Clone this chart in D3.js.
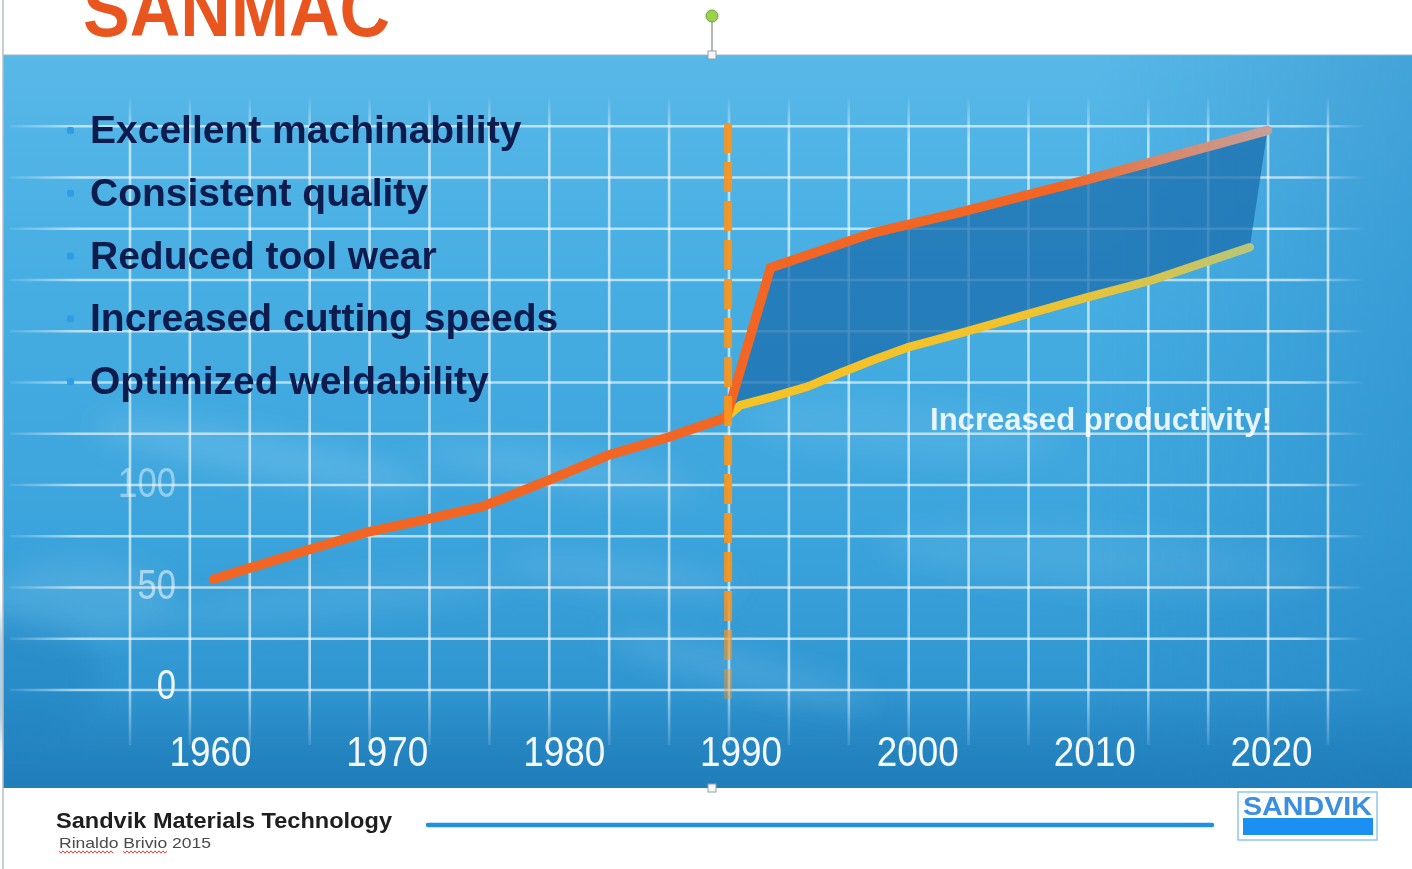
<!DOCTYPE html>
<html>
<head>
<meta charset="utf-8">
<script src="https://cdn.jsdelivr.net/npm/d3@7"></script>
<style>
  html, body { margin: 0; padding: 0; background: #fff; overflow: hidden; }
  svg { display: block; }
</style>
</head>
<body>
<svg id="chart" width="1412" height="869"></svg>
<script>
// ---------------- DATA ----------------
const yearTicks = [1960, 1970, 1980, 1990, 2000, 2010, 2020];
const valueTicks = [0, 50, 100];
const gridValues = [0, 25, 50, 75, 100, 125, 150, 175, 200, 225, 250, 275];
const gridColumns = [0, 1, 2, 3, 4, 5, 6, 7, 8, 9, 10, 11, 12, 13, 14, 15, 16, 17, 18, 19, 20];

const bulletLabels = [
  "Excellent machinability",
  "Consistent quality",
  "Reduced tool wear",
  "Increased cutting speeds",
  "Optimized weldability"
];

// Orange line (SANMAC)
const sanmacYears  = [1960.2, 1961.3, 1965.8, 1968.9, 1972.6, 1975.4, 1979.2, 1982.5, 1986.0, 1989.2, 1991.7, 1997.5, 2002.4, 2009.6, 2019.8];
const sanmacValues = [54,     57,     69,     77,     84,     89.5,   102.5,  114.5,  123.5,  133,    206,    223,    233,    249,    273];

// Yellow line (standard)
const standardYears  = [1989.2, 1990.0, 1991.8, 1993.8, 1995.6, 1997.5, 1999.4, 2002.4, 2009.6, 2013.3, 2018.8];
const standardValues = [133,    139,    143,    148,    154.5,  161,    167,    174,    191.5,  200,    216];

const milestoneYear = 1989.3;
const annotation = "Increased productivity!";
const footerTitle = "Sandvik Materials Technology";
const footerAuthor = ["Rinaldo", "Brivio", "2015"];

// ---------------- SETUP ----------------
const svg = d3.select("#chart");
const W = 1412, H = 869;
const panel = { x: 3, y: 55, w: 1409, h: 733 };

const x = d3.scaleLinear().domain([1960, 2020]).range([210, 1271]);
const y = d3.scaleLinear().domain([0, 100]).range([690, 485]);
const gx = d3.scaleLinear().domain([0, 20]).range([130, 1328]);

const defs = svg.append("defs");

const bg = defs.append("linearGradient").attr("id", "bgGrad").attr("x1", 0).attr("y1", 0).attr("x2", 0).attr("y2", 1);
[["0%", "#58b8e8"], ["30%", "#47aee3"], ["65%", "#3ca4dc"], ["86%", "#3096d1"], ["100%", "#2383bf"]]
  .forEach(([o, c]) => bg.append("stop").attr("offset", o).attr("stop-color", c));

const rightShade = defs.append("linearGradient").attr("id", "rightShade").attr("x1", 0).attr("y1", 0).attr("x2", 1).attr("y2", 0);
rightShade.append("stop").attr("offset", "0%").attr("stop-color", "#1f7fbf").attr("stop-opacity", 0);
rightShade.append("stop").attr("offset", "100%").attr("stop-color", "#1f7fbf").attr("stop-opacity", 0.35);

const bottomBand = defs.append("linearGradient").attr("id", "bottomBand").attr("x1", 0).attr("y1", 0).attr("x2", 0).attr("y2", 1);
bottomBand.append("stop").attr("offset", "0%").attr("stop-color", "#1d78b6").attr("stop-opacity", 0);
bottomBand.append("stop").attr("offset", "100%").attr("stop-color", "#1d78b6").attr("stop-opacity", 0.5);

defs.append("filter").attr("id", "blur").attr("x", "-50%").attr("y", "-50%").attr("width", "200%").attr("height", "200%")
  .append("feGaussianBlur").attr("stdDeviation", 14);

const vFade = defs.append("linearGradient").attr("id", "vFade").attr("gradientUnits", "userSpaceOnUse")
  .attr("x1", 0).attr("y1", 95).attr("x2", 0).attr("y2", 745);
[["0", 0], ["0.07", 0.62], ["0.9", 0.62], ["1", 0.12]]
  .forEach(([o, a]) => vFade.append("stop").attr("offset", o).attr("stop-color", "#ffffff").attr("stop-opacity", a));

const hFade = defs.append("linearGradient").attr("id", "hFade").attr("gradientUnits", "userSpaceOnUse")
  .attr("x1", 10).attr("y1", 0).attr("x2", 1365).attr("y2", 0);
[["0", 0.08], ["0.05", 0.62], ["0.95", 0.62], ["1", 0]]
  .forEach(([o, a]) => hFade.append("stop").attr("offset", o).attr("stop-color", "#ffffff").attr("stop-opacity", a));

const oFade = defs.append("linearGradient").attr("id", "oFade").attr("gradientUnits", "userSpaceOnUse")
  .attr("x1", 210).attr("y1", 0).attr("x2", 1271).attr("y2", 0);
[["0", "#f26522"], ["0.8", "#f26522"], ["0.9", "#d9876a"], ["1", "#c79f9a"]]
  .forEach(([o, c]) => oFade.append("stop").attr("offset", o).attr("stop-color", c));

const yFade = defs.append("linearGradient").attr("id", "yFade").attr("gradientUnits", "userSpaceOnUse")
  .attr("x1", 728).attr("y1", 0).attr("x2", 1255).attr("y2", 0);
[["0", "#f5c324"], ["0.55", "#f3c22c"], ["0.8", "#d8c44c"], ["1", "#b6c67c"]]
  .forEach(([o, c]) => yFade.append("stop").attr("offset", o).attr("stop-color", c));

const dFade = defs.append("linearGradient").attr("id", "dFade").attr("gradientUnits", "userSpaceOnUse")
  .attr("x1", 0).attr("y1", 120).attr("x2", 0).attr("y2", 705);
[["0", 0.95], ["0.8", 0.95], ["1", 0.35]]
  .forEach(([o, a]) => dFade.append("stop").attr("offset", o).attr("stop-color", "#f7941d").attr("stop-opacity", a));

// ---------------- BACKGROUND ----------------
svg.append("rect").attr("width", W).attr("height", H).attr("fill", "#ffffff");

const pg = svg.append("g");
pg.append("rect").attr("x", panel.x).attr("y", panel.y).attr("width", panel.w).attr("height", panel.h).attr("fill", "url(#bgGrad)");

const streaks = pg.append("g").attr("filter", "url(#blur)");
[
  { cx: 260, cy: 455, rx: 170, ry: 20, r: 10, o: 0.2 },
  { cx: 560, cy: 470, rx: 140, ry: 18, r: 8, o: 0.16 },
  { cx: 620, cy: 575, rx: 120, ry: 16, r: 6, o: 0.16 },
  { cx: 740, cy: 670, rx: 140, ry: 16, r: 14, o: 0.16 },
  { cx: 80,  cy: 600, rx: 90,  ry: 40, r: 0, o: 0.14 },
  { cx: 1100, cy: 560, rx: 220, ry: 30, r: 4, o: 0.1 },
  { cx: 330, cy: 600, rx: 180, ry: 20, r: -6, o: 0.1 },
  { cx: 900, cy: 430, rx: 160, ry: 30, r: 5, o: 0.1 }
].forEach(s => {
  streaks.append("ellipse").attr("cx", s.cx).attr("cy", s.cy).attr("rx", s.rx).attr("ry", s.ry)
    .attr("transform", `rotate(${s.r},${s.cx},${s.cy})`).attr("fill", "#bfe8ff").attr("opacity", s.o);
});
pg.append("ellipse").attr("cx", 20).attr("cy", 680).attr("rx", 80).attr("ry", 60)
  .attr("fill", "#1f7cb9").attr("opacity", 0.35).attr("filter", "url(#blur)");

pg.append("rect").attr("x", 1100).attr("y", panel.y).attr("width", 312).attr("height", panel.h).attr("fill", "url(#rightShade)");
pg.append("rect").attr("x", panel.x).attr("y", 700).attr("width", panel.w).attr("height", 88).attr("fill", "url(#bottomBand)");

// ---------------- GRID ----------------
const grid = svg.append("g");
grid.selectAll("line.h").data(gridValues).join("line").attr("class", "h")
  .attr("x1", 10).attr("x2", 1365)
  .attr("y1", d => y(d)).attr("y2", d => y(d))
  .attr("stroke", "url(#hFade)").attr("stroke-width", 2.6);
grid.selectAll("line.v").data(gridColumns).join("line").attr("class", "v")
  .attr("x1", d => gx(d)).attr("x2", d => gx(d))
  .attr("y1", 95).attr("y2", 745)
  .attr("stroke", "url(#vFade)").attr("stroke-width", 2.6);

// ---------------- AREA BETWEEN LINES ----------------
const sanmac = sanmacYears.map((yr, i) => [yr, sanmacValues[i]]);
const standard = standardYears.map((yr, i) => [yr, standardValues[i]]);
const line = d3.line().x(d => x(d[0])).y(d => y(d[1]));

const upper = sanmac.filter(d => d[0] >= standardYears[0]);
const polygon = upper.concat(standard.slice().reverse());
svg.append("path").attr("d", line(polygon) + "Z")
  .attr("fill", "#1a6dad").attr("opacity", 0.74);

// ---------------- LINES ----------------
svg.append("path").attr("d", line(standard))
  .attr("fill", "none").attr("stroke", "url(#yFade)").attr("stroke-width", 8.5)
  .attr("stroke-linecap", "round").attr("stroke-linejoin", "round");

svg.append("path").attr("d", line(sanmac))
  .attr("fill", "none").attr("stroke", "url(#oFade)").attr("stroke-width", 9.5)
  .attr("stroke-linecap", "round").attr("stroke-linejoin", "miter");

svg.append("line")
  .attr("x1", x(milestoneYear)).attr("x2", x(milestoneYear))
  .attr("y1", 123).attr("y2", 705)
  .attr("stroke", "url(#dFade)").attr("stroke-width", 8)
  .attr("stroke-dasharray", "30,9");

// ---------------- AXES ----------------
const axisFont = "'Liberation Sans Narrow', 'Arial Narrow', 'Liberation Sans', Arial, sans-serif";
const xAxis = d3.axisBottom(x).tickValues(yearTicks).tickFormat(d3.format("d")).tickSize(0).tickPadding(0);
const gxAxis = svg.append("g").attr("transform", "translate(0,736)").call(xAxis);
gxAxis.select(".domain").remove();
gxAxis.attr("font-family", axisFont).attr("font-size", 42);
gxAxis.selectAll("text").attr("fill", "#ffffff").attr("fill-opacity", 0.95)
  .attr("textLength", 82).attr("lengthAdjust", "spacingAndGlyphs");

const yAxis = d3.axisLeft(y).tickValues(valueTicks).tickFormat(d3.format("d")).tickSize(0).tickPadding(0);
const gyAxis = svg.append("g").attr("transform", "translate(176,0)").call(yAxis);
gyAxis.select(".domain").remove();
gyAxis.attr("font-family", axisFont).attr("font-size", 42);
gyAxis.selectAll("text").attr("fill", "#ffffff")
  .attr("fill-opacity", d => d === 0 ? 0.92 : (d === 50 ? 0.55 : 0.45))
  .attr("y", d => d === 0 ? -5 : -2)
  .attr("textLength", d => String(d).length * 19.3).attr("lengthAdjust", "spacingAndGlyphs");

// ---------------- BULLETS ----------------
const bulletG = svg.append("g");
const bulletY = d3.scaleLinear().domain([0, 4]).range([143, 394]);
const items = bulletG.selectAll("g").data(bulletLabels).join("g")
  .attr("transform", (d, i) => `translate(0,${bulletY(i)})`);
items.append("rect").attr("x", 67).attr("y", -16).attr("width", 7).attr("height", 7).attr("rx", 2)
  .attr("fill", "#2f9ce8");
items.append("text").attr("x", 90).attr("y", 0)
  .attr("font-family", "'Liberation Sans', Arial, sans-serif").attr("font-weight", "bold").attr("font-size", 39)
  .attr("fill", "#0d1b4d").text(d => d);

svg.append("text").attr("x", 930).attr("y", 430)
  .attr("font-family", "'Liberation Sans', Arial, sans-serif").attr("font-weight", "bold").attr("font-size", 31)
  .attr("fill", "#ffffff").attr("fill-opacity", 0.88).attr("textLength", 342).attr("lengthAdjust", "spacingAndGlyphs")
  .text(annotation);

// ---------------- SLIDE CHROME ----------------
// top logo, cropped by the top edge as in the slide
svg.append("text").attr("x", 83).attr("y", 36)
  .attr("font-family", "'Liberation Sans', Arial, sans-serif").attr("font-weight", "bold").attr("font-size", 78)
  .attr("fill", "#e8551f").attr("textLength", 307).attr("lengthAdjust", "spacingAndGlyphs")
  .text("SANMAC");

svg.append("line").attr("x1", 3).attr("x2", 3).attr("y1", 0).attr("y2", H).attr("stroke", "#b8bcc2").attr("stroke-width", 1.5);
svg.append("line").attr("x1", 3).attr("x2", W).attr("y1", panel.y).attr("y2", panel.y).attr("stroke", "#9fb3c4").attr("stroke-width", 1);

svg.append("line").attr("x1", 712).attr("x2", 712).attr("y1", 22).attr("y2", 51).attr("stroke", "#9aa0a6").attr("stroke-width", 1.5);
svg.append("circle").attr("cx", 712).attr("cy", 16).attr("r", 6).attr("fill", "#9ad24c").attr("stroke", "#6c9f35").attr("stroke-width", 1);
svg.append("rect").attr("x", 708).attr("y", 51).attr("width", 8).attr("height", 8).attr("fill", "#f4f6f8").attr("stroke", "#9aa0a6");
svg.append("rect").attr("x", 708).attr("y", 784).attr("width", 8).attr("height", 8).attr("fill", "#f4f6f8").attr("stroke", "#9aa0a6");

svg.append("text").attr("x", 56).attr("y", 828)
  .attr("font-family", "'Liberation Sans', Arial, sans-serif").attr("font-weight", "bold").attr("font-size", 22)
  .attr("fill", "#1e1e1e").attr("textLength", 336).attr("lengthAdjust", "spacingAndGlyphs")
  .text(footerTitle);
svg.append("text").attr("x", 59).attr("y", 848)
  .attr("font-family", "'Liberation Sans Narrow', 'Liberation Sans', Arial, sans-serif").attr("font-size", 15)
  .attr("fill", "#4a4a4a").attr("textLength", 152).attr("lengthAdjust", "spacingAndGlyphs")
  .text(footerAuthor.join("  "));
const squiggle = (x0, x1, yy) => {
  const pts = [];
  for (let xx = x0, k = 0; xx <= x1; xx += 2, k++) pts.push([xx, yy + (k % 2 ? 1.2 : -1.2)]);
  return d3.line()(pts);
};
svg.append("path").attr("d", squiggle(59, 114, 852)).attr("fill", "none").attr("stroke", "#e0443e").attr("stroke-width", 1);
svg.append("path").attr("d", squiggle(123, 168, 852)).attr("fill", "none").attr("stroke", "#e0443e").attr("stroke-width", 1);

svg.append("line").attr("x1", 428).attr("x2", 1212).attr("y1", 825).attr("y2", 825)
  .attr("stroke", "#2190df").attr("stroke-width", 4.5).attr("stroke-linecap", "round");

svg.append("rect").attr("x", 1238).attr("y", 792).attr("width", 139).attr("height", 48)
  .attr("fill", "#ffffff").attr("stroke", "#8fc6f2").attr("stroke-width", 1.5);
svg.append("text").attr("x", 1243).attr("y", 815)
  .attr("font-family", "'Liberation Sans', Arial, sans-serif").attr("font-weight", "bold").attr("font-size", 25)
  .attr("fill", "#3a8fe0").attr("textLength", 129).attr("lengthAdjust", "spacingAndGlyphs")
  .text("SANDVIK");
svg.append("rect").attr("x", 1243).attr("y", 818).attr("width", 130).attr("height", 17).attr("fill", "#1c90f2");
</script>
</body>
</html>
